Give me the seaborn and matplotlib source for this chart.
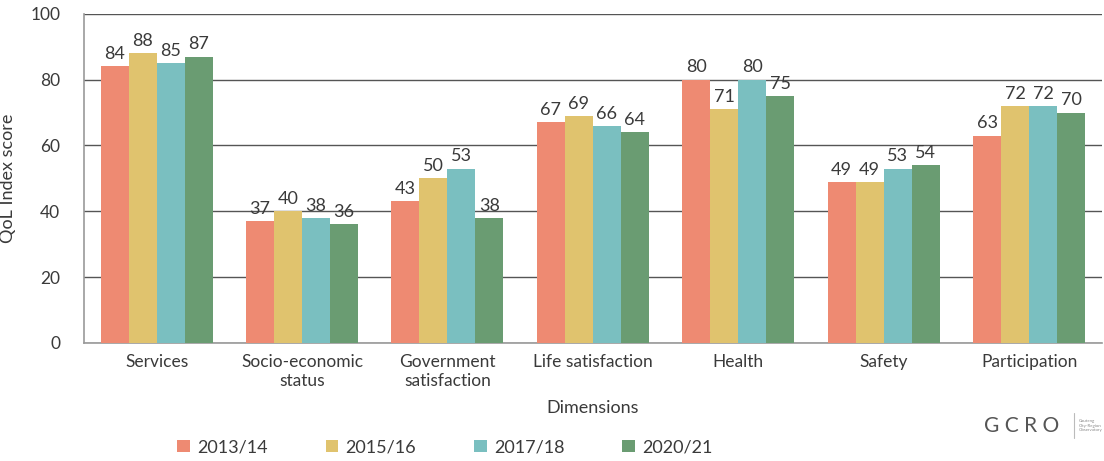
import matplotlib

matplotlib.use("Agg")
import matplotlib.pyplot as plt
import pandas as pd
import seaborn as sns

# values
dimensions = ["Services", "Socio-economic\nstatus", "Government\nsatisfaction",
              "Life satisfaction", "Health", "Safety", "Participation"]
years = ["2013/14", "2015/16", "2017/18", "2020/21"]
s2013 = [84, 37, 43, 67, 80, 49, 63]
s2015 = [88, 40, 50, 69, 71, 49, 72]
s2017 = [85, 38, 53, 66, 80, 53, 72]
s2020 = [87, 36, 38, 64, 75, 54, 70]
colors = ["#EE8A72", "#E0C36E", "#7ABFC0", "#6A9C72"]
yticks = [0, 20, 40, 60, 80, 100]

rows = []
for yr, vals in zip(years, [s2013, s2015, s2017, s2020]):
    for d, v in zip(dimensions, vals):
        rows.append({"Dimension": d, "Year": yr, "Score": v})
df = pd.DataFrame(rows)

sns.set_theme(style="white")
plt.rcParams["font.family"] = ["Lato", "DejaVu Sans"]
text_col = "#3a3a3a"

fig = plt.figure(figsize=(11.04, 4.61), dpi=100, facecolor="white")
ax = fig.add_axes([0.076, 0.256, 0.922, 0.714])

sns.barplot(data=df, x="Dimension", y="Score", hue="Year", order=dimensions,
            hue_order=years, palette=colors, width=0.77, gap=0, saturation=1,
            errorbar=None, ax=ax, legend=True, linewidth=0, edgecolor="none",
            zorder=3)

for cont in ax.containers:
    ax.bar_label(cont, fmt="%.0f", padding=3, fontsize=13, color=text_col)

ax.set_ylim(0, 100)
ax.set_xlim(-0.5, 6.5)
ax.set_yticks(yticks)
ax.yaxis.grid(True, color="#555555", linewidth=1, zorder=0)
ax.set_axisbelow(True)
for side in ["top", "right"]:
    ax.spines[side].set_visible(False)
for side in ["left", "bottom"]:
    ax.spines[side].set_color("#999999")
    ax.spines[side].set_linewidth(1.2)
ax.tick_params(axis="both", length=0, labelsize=12.5, colors=text_col)
ax.tick_params(axis="x", pad=8)
ax.tick_params(axis="y", pad=17)
ax.set_ylabel("QoL Index score", fontsize=13, color=text_col, labelpad=10)
ax.set_xlabel("Dimensions", fontsize=13, color=text_col, labelpad=8)

handles, labels = ax.get_legend_handles_labels()
ax.get_legend().remove()
fig.legend(handles, labels, loc="center", bbox_to_anchor=(0.403, 0.03), ncol=4,
           frameon=False, fontsize=13, handlelength=0.7, handleheight=0.7,
           handletextpad=0.4, columnspacing=3.2, labelcolor=text_col)

fig.text(0.925, 0.077, "G C R O", fontsize=15, color="#555555", ha="center",
         va="center")
fig.lines.append(plt.Line2D([0.973, 0.973], [0.05, 0.105], transform=fig.transFigure,
                            color="#bbbbbb", linewidth=0.8))
fig.text(0.977, 0.077, "Gauteng\nCity-Region\nObservatory", fontsize=3.2,
         color="#888888", ha="left", va="center")

fig.savefig("out.png", dpi=100, facecolor="white")
